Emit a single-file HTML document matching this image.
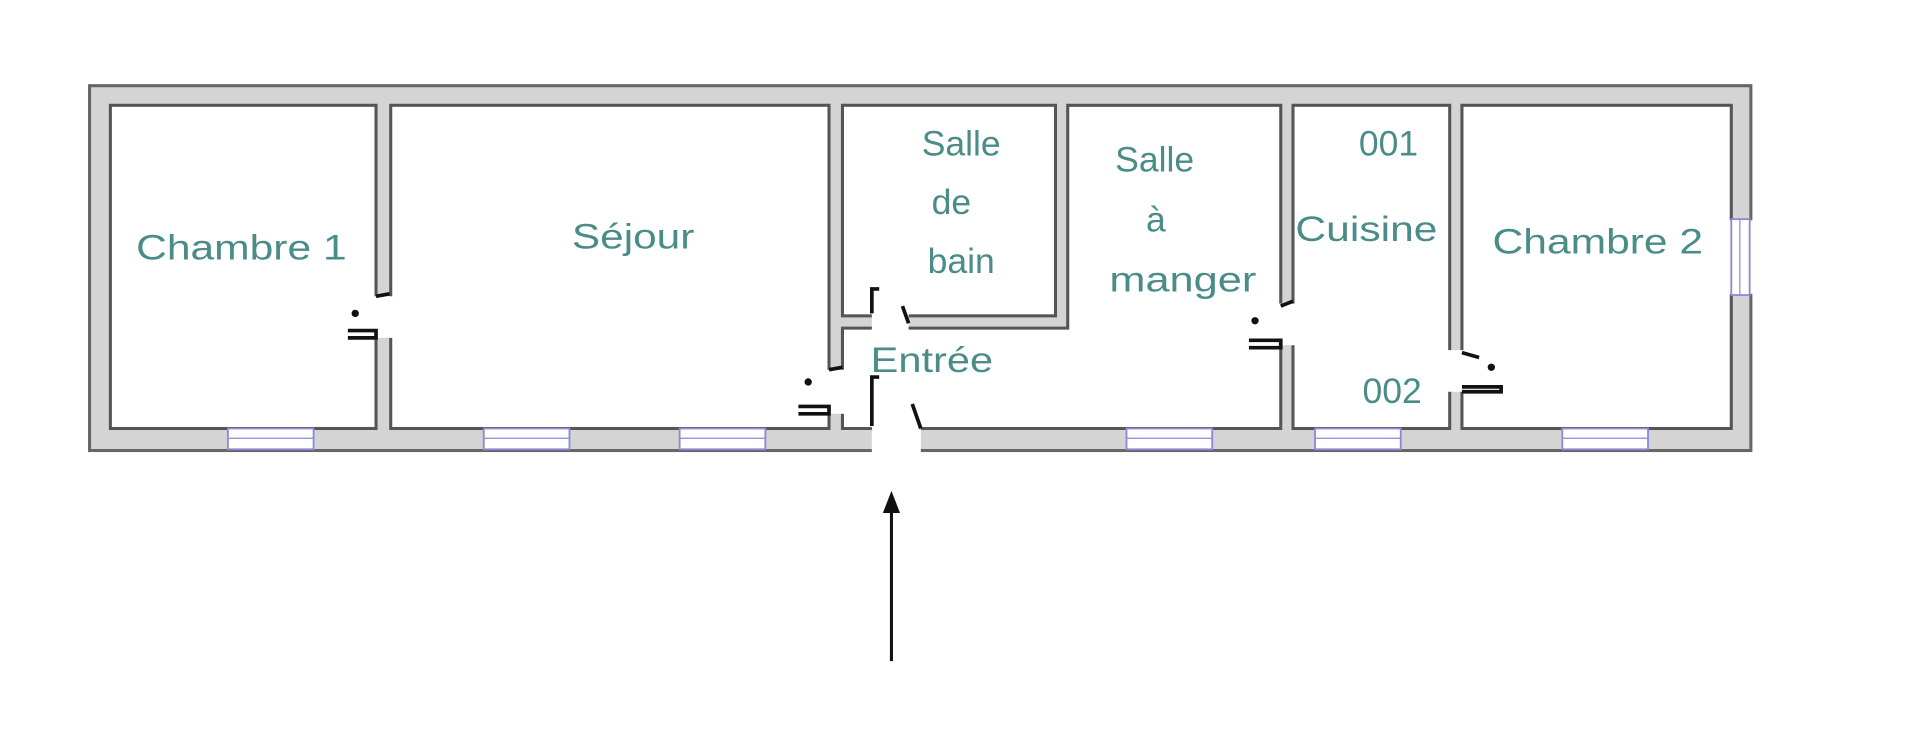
<!DOCTYPE html>
<html><head><meta charset="utf-8"><style>html,body{margin:0;padding:0;background:#fff}svg{display:block}</style></head>
<body>
<svg width="1920" height="737" viewBox="0 0 1568 602" xmlns="http://www.w3.org/2000/svg">
<rect width="1568" height="602" fill="#fff"/>
<rect x="73" y="70" width="1357" height="298" fill="#d4d4d4" stroke="#666" stroke-width="2.5"/>
<g fill="#fff" stroke="#555" stroke-width="2.5">
<rect x="90" y="86" width="217" height="264"/>
<rect x="319" y="86" width="358" height="264"/>
<rect x="688" y="86" width="174" height="172"/>
<polygon points="872,86 1046,86 1046,350 688,350 688,268 872,268"/>
<rect x="1056" y="86" width="128" height="264"/>
<rect x="1194" y="86" width="220" height="264"/>
</g>
<!-- door gaps -->
<g fill="#fff">
<rect x="305" y="242" width="16" height="34"/>
<rect x="675" y="302" width="15" height="36"/>
<rect x="712" y="256" width="30" height="14"/>
<rect x="712" y="348" width="40" height="22"/>
<rect x="1044" y="248" width="14" height="34"/>
<rect x="1182" y="286" width="14" height="34"/>
<rect x="1412" y="180" width="20" height="60"/>
</g>
<!-- door leaves -->
<g stroke="#111" stroke-width="3" fill="none">
<path d="M307 242 L318 240"/><path d="M284 270 L307 270 L307 276 L284 276"/><circle cx="290" cy="256" r="1.5" fill="#111"/>
<path d="M677 302 L688 300"/><path d="M652 332 L677 332 L677 338 L652 338"/><circle cx="660" cy="312" r="1.5" fill="#111"/>
<path d="M712 256 L712 236 L718 236"/><path d="M737 250 L742 264"/>
<path d="M712 348 L712 308 L718 308"/><path d="M745 330 L752 350"/>
<path d="M1046 250 L1056 246"/><path d="M1020 278 L1046 278 L1046 284 L1020 284"/><circle cx="1025" cy="262" r="1.5" fill="#111"/>
<path d="M1194 288 L1208 292"/><path d="M1194 316 L1226 316 L1226 320 L1194 320"/><circle cx="1218" cy="300" r="1.5" fill="#111"/>
</g>
<!-- windows -->
<g fill="#fff" stroke="#8a8ad8" stroke-width="1.5">
<rect x="186" y="350" width="70" height="17"/>
<rect x="395" y="350" width="70" height="17"/>
<rect x="555" y="350" width="70" height="17"/>
<rect x="920" y="350" width="70" height="17"/>
<rect x="1074" y="350" width="70" height="17"/>
<rect x="1276" y="350" width="70" height="17"/>
<rect x="1414" y="179" width="15" height="62"/>
</g>
<g stroke="#8a8ad8" stroke-width="1"><line x1="186" y1="358" x2="256" y2="358"/><line x1="395" y1="358" x2="465" y2="358"/><line x1="555" y1="358" x2="625" y2="358"/><line x1="920" y1="358" x2="990" y2="358"/><line x1="1074" y1="358" x2="1144" y2="358"/><line x1="1276" y1="358" x2="1346" y2="358"/><line x1="1421" y1="179" x2="1421" y2="241"/></g>
<!-- labels -->
<g fill="#4a8c88" font-family="'Liberation Sans', 'DejaVu Sans', sans-serif" font-size="29" text-anchor="middle">
<text x="197" y="212" textLength="172" lengthAdjust="spacingAndGlyphs">Chambre 1</text>
<text x="517" y="203" textLength="100" lengthAdjust="spacingAndGlyphs">Séjour</text>
<text x="785" y="127">Salle</text>
<text x="777" y="175">de</text>
<text x="785" y="223">bain</text>
<text x="943" y="140">Salle</text>
<text x="944" y="189">à</text>
<text x="966" y="238" textLength="120" lengthAdjust="spacingAndGlyphs">manger</text>
<text x="1134" y="127">001</text>
<text x="1116" y="197" textLength="116" lengthAdjust="spacingAndGlyphs">Cuisine</text>
<text x="1137" y="329">002</text>
<text x="1305" y="207" textLength="172" lengthAdjust="spacingAndGlyphs">Chambre 2</text>
<text x="761" y="304" textLength="100" lengthAdjust="spacingAndGlyphs">Entrée</text>
</g>
<!-- arrow -->
<line x1="728" y1="540" x2="728" y2="414" stroke="#111" stroke-width="2.5"/>
<polygon points="728,401 721,419 735,419" fill="#111"/>
</svg>
</body></html>
